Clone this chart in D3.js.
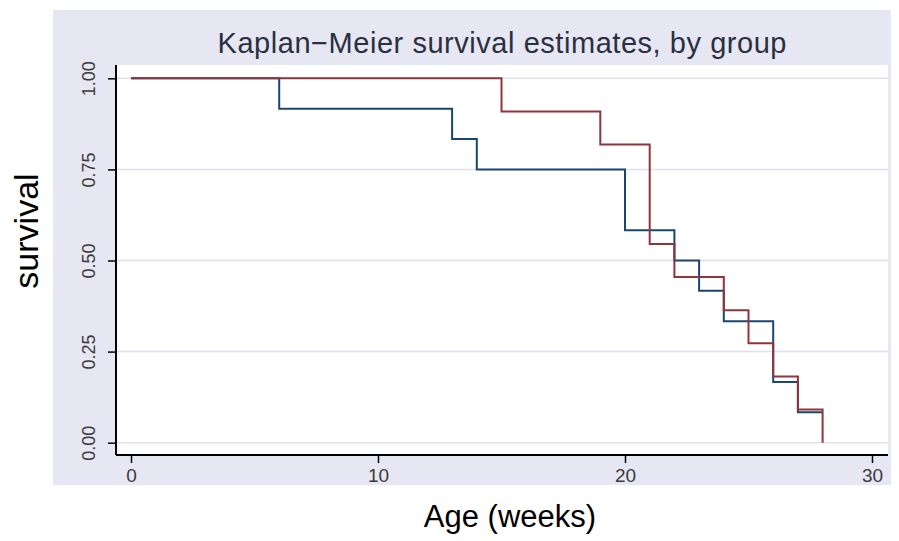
<!DOCTYPE html>
<html>
<head>
<meta charset="utf-8">
<script src="https://cdn.jsdelivr.net/npm/d3@7"></script>
<style>
  body { margin: 0; background: #fff; }
  text { font-family: "Liberation Sans", Arial, sans-serif; }
</style>
</head>
<body>
<div id="chart"></div>
<script>
// survival steps
const blueTimes = [0, 6, 13, 14, 20, 22, 23, 24, 26, 27, 28];
const blueSurv  = [1, 0.9167, 0.8333, 0.75, 0.5833, 0.5, 0.4167, 0.3333, 0.1667, 0.0833, 0.0833];
const redTimes  = [0, 15, 19, 21, 22, 24, 25, 26, 27, 28];
const redSurv   = [1, 0.9091, 0.8182, 0.5455, 0.4545, 0.3636, 0.2727, 0.1818, 0.0909, 0];
const xTicks = [0, 10, 20, 30];
const yTicks = [0, 0.25, 0.5, 0.75, 1];

const width = 899, height = 541;

const svg = d3.select("#chart").append("svg")
    .attr("width", width)
    .attr("height", height);

// graph region (lavender)
svg.append("rect")
    .attr("x", 53).attr("y", 10)
    .attr("width", 838).attr("height", 475)
    .attr("fill", "#e7e7f4");

// plot region
const plot = { left: 116, right: 888, top: 65, bottom: 455 };
svg.append("rect")
    .attr("x", plot.left).attr("y", plot.top)
    .attr("width", plot.right - plot.left).attr("height", plot.bottom - plot.top)
    .attr("fill", "#fff");

const x = d3.scaleLinear().domain([0, 30]).range([131, 872]);
const y = d3.scaleLinear().domain([0, 1]).range([442.7, 78.3]);

// gridlines
svg.selectAll("line.grid")
    .data(yTicks)
    .enter()
    .append("line")
    .attr("class", "grid")
    .attr("x1", plot.left).attr("x2", plot.right)
    .attr("y1", d => y(d)).attr("y2", d => y(d))
    .attr("stroke", "#e0e0f0")
    .attr("stroke-width", 1.5);

// step curves
const line = d3.line().curve(d3.curveStepAfter);
const series = [
    { times: blueTimes, surv: blueSurv, color: "#1a476f" },
    { times: redTimes, surv: redSurv, color: "#90353b" }
];
series.forEach(s => {
    svg.append("path")
        .attr("d", line(s.times.map((t, i) => [x(t), y(s.surv[i])])))
        .attr("fill", "none")
        .attr("stroke", s.color)
        .attr("stroke-width", 2);
});

// axes
const yAxis = d3.axisLeft(y).tickValues(yTicks).tickFormat(d3.format(".2f")).tickSize(8).tickSizeOuter(0);
const gy = svg.append("g").attr("transform", `translate(${plot.left},0)`).call(yAxis);
gy.select(".domain").remove();
gy.selectAll(".tick line").attr("stroke", "#000").attr("stroke-width", 1.5);
gy.selectAll(".tick text")
    .attr("x", 0).attr("y", 0).attr("dy", 0)
    .attr("transform", "translate(-21,0) rotate(-90)")
    .attr("text-anchor", "middle")
    .attr("font-size", 18)
    .attr("fill", "#3a3a3a");

const xAxis = d3.axisBottom(x).tickValues(xTicks).tickFormat(d3.format("d")).tickSize(8).tickSizeOuter(0);
const gx = svg.append("g").attr("transform", `translate(0,${plot.bottom})`).call(xAxis);
gx.select(".domain").remove();
gx.selectAll(".tick line").attr("stroke", "#000").attr("stroke-width", 1.5);
gx.selectAll(".tick text")
    .attr("y", 27).attr("dy", 0)
    .attr("font-size", 19)
    .attr("fill", "#3a3a3a");

// axis lines
svg.append("line")
    .attr("x1", plot.left).attr("x2", plot.left)
    .attr("y1", plot.top).attr("y2", plot.bottom)
    .attr("stroke", "#000").attr("stroke-width", 2);
svg.append("line")
    .attr("x1", plot.left).attr("x2", plot.right)
    .attr("y1", plot.bottom).attr("y2", plot.bottom)
    .attr("stroke", "#000").attr("stroke-width", 2);

// titles
svg.append("text")
    .attr("x", 502).attr("y", 53)
    .attr("text-anchor", "middle")
    .attr("font-size", 29)
    .attr("textLength", 569)
    .attr("fill", "#2a3040")
    .text("Kaplan\u2212Meier survival estimates, by group");

svg.append("text")
    .attr("transform", "translate(38,231) rotate(-90)")
    .attr("text-anchor", "middle")
    .attr("font-size", 34)
    .attr("fill", "#000")
    .text("survival");

svg.append("text")
    .attr("x", 510).attr("y", 527)
    .attr("text-anchor", "middle")
    .attr("font-size", 31)
    .attr("fill", "#000")
    .text("Age (weeks)");
</script>
</body>
</html>
